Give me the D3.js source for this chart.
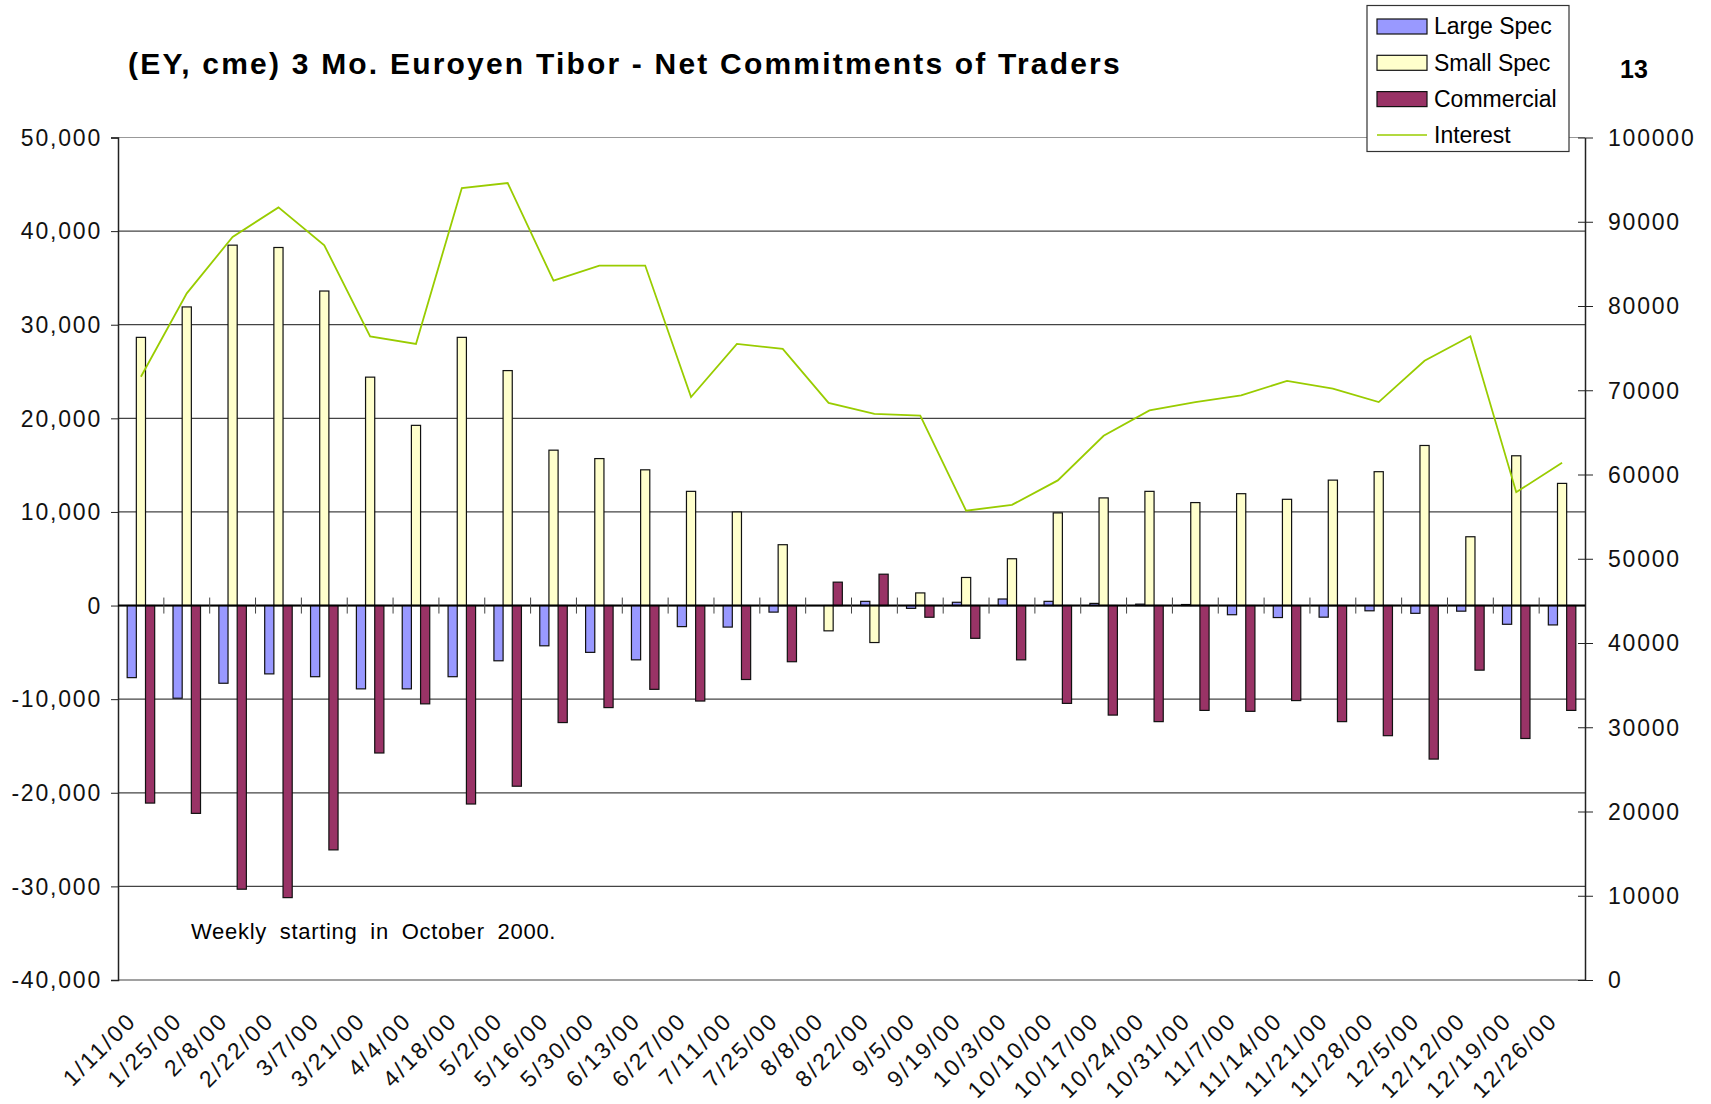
<!DOCTYPE html>
<html>
<head>
	<meta charset="utf-8">
	<title></title>
	<style>
		body { margin: 0; background: #fff; }
		text { font-family: "Liberation Sans", Arial, sans-serif; }
	</style>
</head>
<body>
	<svg id="container" width="1711" height="1104"></svg>
</body>
<script src="https://d3js.org/d3.v7.min.js"></script>
<script>
	// weekly dates on the x axis
	let dates = ["1/11/00","1/25/00","2/8/00","2/22/00","3/7/00","3/21/00","4/4/00","4/18/00",
		"5/2/00","5/16/00","5/30/00","6/13/00","6/27/00","7/11/00","7/25/00","8/8/00",
		"8/22/00","9/5/00","9/19/00","10/3/00","10/10/00","10/17/00","10/24/00","10/31/00",
		"11/7/00","11/14/00","11/21/00","11/28/00","12/5/00","12/12/00","12/19/00","12/26/00"]

	let largeSpec = [-7700,-9900,-8300,-7300,-7600,-8900,-8900,-7600,
		-5900,-4300,-5000,-5800,-2250,-2300,-700,0,
		450,-300,350,700,450,230,150,110,
		-980,-1280,-1240,-560,-830,-600,-2000,-2070]

	let smallSpec = [28650,31900,38500,38250,33600,24400,19250,28650,
		25100,16600,15700,14500,12200,10000,6500,-2700,
		-3950,1350,3000,5000,9900,11500,12200,11000,
		11950,11350,13400,14300,17100,7350,16000,13050]

	let commercial = [-21100,-22200,-30300,-31200,-26100,-15750,-10500,-21200,
		-19300,-12500,-10900,-8950,-10200,-7900,-6000,2500,
		3350,-1250,-3500,-5800,-10450,-11700,-12400,-11200,
		-11300,-10150,-12400,-13900,-16400,-6900,-14200,-11200]

	let interest = [71600,81500,88200,91700,87200,76400,75500,94000,
		94600,83000,84800,84800,69200,75500,74900,68500,
		67200,67000,55700,56400,59300,64600,67600,68600,
		69400,71100,70200,68600,73500,76400,57900,61400]

	let seriesNames = ["Large Spec","Small Spec","Commercial"]
	let seriesColors = ["#9999ff","#ffffcc","#993366"]
	let lineColor = "#99cc00"

	let leftTicks = [-40000,-30000,-20000,-10000,0,10000,20000,30000,40000,50000]
	let rightTicks = [0,10000,20000,30000,40000,50000,60000,70000,80000,90000,100000]

	let svg = d3.select("#container")
	let plotL = 118, plotR = 1585, plotT = 137.5, plotB = 980

	let x0 = d3.scaleBand().domain(dates).range([plotL, plotR])
	let x1 = d3.scaleBand().domain(seriesNames).range([0, x0.bandwidth()]).paddingOuter(1)
	let yL = d3.scaleLinear().domain([-40000, 50000]).range([plotB, plotT])
	let yR = d3.scaleLinear().domain([0, 100000]).range([plotB, plotT])

	// plain hyphen for negatives, like the original
	let fmt = d => (d < 0 ? "-" : "") + d3.format(",")(Math.abs(d))

	// gridlines
	svg.append("g").selectAll("line")
		.data(leftTicks)
		.enter().append("line")
			.attr("x1", plotL).attr("x2", plotR)
			.attr("y1", d => yL(d)).attr("y2", d => yL(d))
			.attr("stroke", d => d == 50000 ? "#999" : "#444")
			.attr("stroke-width", 1.2)

	// left axis
	let axL = svg.append("g")
		.attr("transform", `translate(${plotL},0)`)
		.call(d3.axisLeft(yL).tickValues(leftTicks).tickSize(7).tickFormat(fmt))
	axL.select(".domain").attr("stroke", "#222").attr("stroke-width", 1.5)
	axL.selectAll(".tick line").attr("stroke", "#222")
	axL.selectAll("text")
		.attr("font-size", 23).attr("letter-spacing", 1.8).attr("fill", "#111")
		.attr("x", -16).attr("dy", "0.34em")

	// right axis
	let axR = svg.append("g")
		.attr("transform", `translate(${plotR},0)`)
		.call(d3.axisRight(yR).tickValues(rightTicks).tickSize(0).tickFormat(d3.format("d")))
	axR.select(".domain").attr("stroke", "#222").attr("stroke-width", 1.5)
	axR.selectAll(".tick").append("line")
		.attr("x1", -7).attr("x2", 8).attr("stroke", "#222")
	axR.selectAll("text")
		.attr("font-size", 23).attr("letter-spacing", 1.8).attr("fill", "#111")
		.attr("x", 23).attr("dy", "0.34em")

	// bars
	let groups = svg.append("g").selectAll("g")
		.data(dates)
		.enter().append("g")
			.attr("transform", d => `translate(${x0(d)},0)`)

	groups.selectAll("rect")
		.data((d, i) => [largeSpec[i], smallSpec[i], commercial[i]].map((v, k) => ({name: seriesNames[k], v: v, k: k})))
		.enter().append("rect")
			.attr("x", d => x1(d.name))
			.attr("width", x1.bandwidth())
			.attr("y", d => yL(Math.max(0, d.v)))
			.attr("height", d => Math.abs(yL(d.v) - yL(0)))
			.attr("fill", d => seriesColors[d.k])
			.attr("stroke", "#111")
			.attr("stroke-width", 1.2)

	// zero line and category ticks
	svg.append("line")
		.attr("x1", plotL).attr("x2", plotR)
		.attr("y1", yL(0)).attr("y2", yL(0))
		.attr("stroke", "#000").attr("stroke-width", 2)

	svg.append("g").selectAll("line")
		.data(dates.slice(1))
		.enter().append("line")
			.attr("x1", d => x0(d)).attr("x2", d => x0(d))
			.attr("y1", yL(0) - 8).attr("y2", yL(0) + 8)
			.attr("stroke", "#444")

	// x labels
	svg.append("g").selectAll("text")
		.data(dates)
		.enter().append("text")
			.text(d => d)
			.attr("text-anchor", "end")
			.attr("font-size", 23)
			.attr("letter-spacing", 2.5)
			.attr("fill", "#111")
			.attr("transform", d => `translate(${x0(d) + x0.bandwidth() / 2 - 3},1022) rotate(-45)`)

	// interest line
	let line = d3.line()
		.x((d, i) => x0(dates[i]) + x0.bandwidth() / 2)
		.y(d => yR(d))
	svg.append("path")
		.datum(interest)
		.attr("d", line)
		.attr("fill", "none")
		.attr("stroke", lineColor)
		.attr("stroke-width", 1.8)

	// titles
	svg.append("text")
		.text("(EY, cme) 3 Mo. Euroyen Tibor - Net Commitments of Traders")
		.attr("x", 128).attr("y", 74)
		.attr("font-size", 30).attr("font-weight", "bold").attr("letter-spacing", 2.2)

	svg.append("text")
		.text("13")
		.attr("x", 1634).attr("y", 78)
		.attr("text-anchor", "middle")
		.attr("font-size", 25).attr("font-weight", "bold")

	svg.append("text")
		.text("Weekly starting in October 2000.")
		.attr("x", 191).attr("y", 939)
		.attr("font-size", 22).attr("word-spacing", 6).attr("letter-spacing", 0.7)

	// legend
	let legend = svg.append("g")
	legend.append("rect")
		.attr("x", 1367).attr("y", 5.5).attr("width", 202).attr("height", 146)
		.attr("fill", "#fff").attr("stroke", "#333").attr("stroke-width", 1.2)

	let legItems = legend.selectAll("g")
		.data(seriesNames.concat(["Interest"]))
		.enter().append("g")
			.attr("transform", (d, i) => `translate(1377,${26 + i * 36.3})`)

	legItems.filter((d, i) => i < 3).append("rect")
		.attr("x", 0).attr("y", -7).attr("width", 50).attr("height", 15)
		.attr("fill", (d, i) => seriesColors[i])
		.attr("stroke", "#111").attr("stroke-width", 1.2)

	legItems.filter((d, i) => i == 3).append("line")
		.attr("x1", 0).attr("x2", 50)
		.attr("stroke", lineColor).attr("stroke-width", 1.5)

	legItems.append("text")
		.text(d => d)
		.attr("x", 57).attr("dy", "0.36em")
		.attr("font-size", 23)
</script>
</html>
